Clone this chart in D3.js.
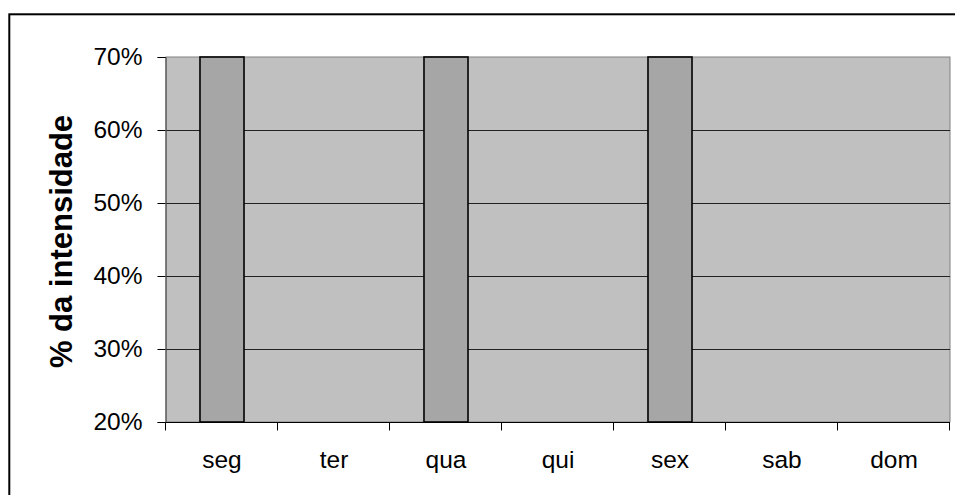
<!DOCTYPE html>
<html>
<head>
<meta charset="utf-8">
<script src="https://cdn.jsdelivr.net/npm/d3@7"></script>
<style>
  body { margin: 0; background: #fff; }
  text { font-family: Arial, "Liberation Sans", sans-serif; }
</style>
</head>
<body>
<div id="chart"></div>
<script>
// dias da semana e intensidade (%)
var dias = ["seg", "ter", "qua", "qui", "sex", "sab", "dom"];
var intensidade = [70, 0, 70, 0, 70, 0, 0];
var yTicks = [20, 30, 40, 50, 60, 70];

var W = 955, H = 495;
var plot = { left: 166, right: 950, top: 57, bottom: 422 };

var svg = d3.select("#chart")
	.append("svg")
	.attr("width", W)
	.attr("height", H);

// moldura externa
svg.append("rect")
	.attr("x", 9.3)
	.attr("y", 14.3)
	.attr("width", W)
	.attr("height", H)
	.attr("fill", "none")
	.attr("stroke", "#000")
	.attr("stroke-width", 2);

var x = d3.scaleBand()
	.domain(dias)
	.range([plot.left, plot.right])
	.padding(0);

var y = d3.scaleLinear()
	.domain([20, 70])
	.range([plot.bottom, plot.top]);

// fundo da area de plotagem
svg.append("rect")
	.attr("x", plot.left)
	.attr("y", plot.top)
	.attr("width", plot.right - plot.left)
	.attr("height", plot.bottom - plot.top)
	.attr("fill", "#c0c0c0")
	.attr("stroke", "#808080")
	.attr("stroke-width", 1);

// linhas de grade
svg.append("g")
	.selectAll("line")
	.data(yTicks.filter(function (d) { return d > 20 && d < 70; }))
	.enter()
	.append("line")
	.attr("x1", plot.left)
	.attr("x2", plot.right)
	.attr("y1", function (d) { return Math.round(y(d)) + 0.5; })
	.attr("y2", function (d) { return Math.round(y(d)) + 0.5; })
	.attr("stroke", "#222")
	.attr("stroke-width", 1);

// barras
var barW = x.bandwidth() * 0.393;
var dados = dias.map(function (d, i) { return { dia: d, v: intensidade[i] }; });

svg.append("g")
	.selectAll("rect")
	.data(dados.filter(function (d) { return d.v > y.domain()[0]; }))
	.enter()
	.append("rect")
	.attr("x", function (d) { return x(d.dia) + (x.bandwidth() - barW) / 2; })
	.attr("y", function (d) { return y(d.v); })
	.attr("width", barW)
	.attr("height", function (d) { return y(y.domain()[0]) - y(d.v); })
	.attr("fill", "#a6a6a6")
	.attr("stroke", "#000")
	.attr("stroke-width", 1.6);

// eixo Y
var yAxis = svg.append("g")
	.attr("transform", "translate(" + (plot.left - 0.5) + ",0)")
	.call(d3.axisLeft(y)
		.tickValues(yTicks)
		.tickSize(8)
		.tickPadding(15)
		.tickFormat(function (d) { return d + "%"; }));

yAxis.select(".domain").attr("stroke", "#404040");
yAxis.selectAll(".tick line").attr("stroke", "#000");
yAxis.selectAll("text")
	.attr("font-size", "24.5px")
	.attr("font-family", "Arial, 'Liberation Sans', sans-serif")
	.attr("fill", "#000");

// eixo X
var xTickScale = d3.scalePoint()
	.domain(d3.range(dias.length + 1))
	.range([plot.left, plot.right]);

var xAxis = svg.append("g")
	.attr("transform", "translate(0," + (plot.bottom + 0.5) + ")");

xAxis.append("line")
	.attr("x1", plot.left)
	.attr("x2", plot.right)
	.attr("stroke", "#000")
	.attr("stroke-width", 1);

xAxis.selectAll("line.tk")
	.data(xTickScale.domain())
	.enter()
	.append("line")
	.attr("class", "tk")
	.attr("x1", function (d) { return Math.round(xTickScale(d)) - 0.5; })
	.attr("x2", function (d) { return Math.round(xTickScale(d)) - 0.5; })
	.attr("y1", 0)
	.attr("y2", 8)
	.attr("stroke", "#000");

xAxis.selectAll("text")
	.data(dias)
	.enter()
	.append("text")
	.attr("x", function (d) { return x(d) + x.bandwidth() / 2; })
	.attr("y", 45)
	.attr("text-anchor", "middle")
	.attr("font-size", "24.5px")
	.attr("fill", "#000")
	.text(function (d) { return d; });

// titulo do eixo Y
svg.append("text")
	.attr("transform", "translate(72," + ((plot.top + plot.bottom) / 2 + 2) + ") rotate(-90)")
	.attr("text-anchor", "middle")
	.attr("font-size", "31px")
	.attr("font-weight", "bold")
	.attr("fill", "#000")
	.text("% da intensidade");
</script>
</body>
</html>
